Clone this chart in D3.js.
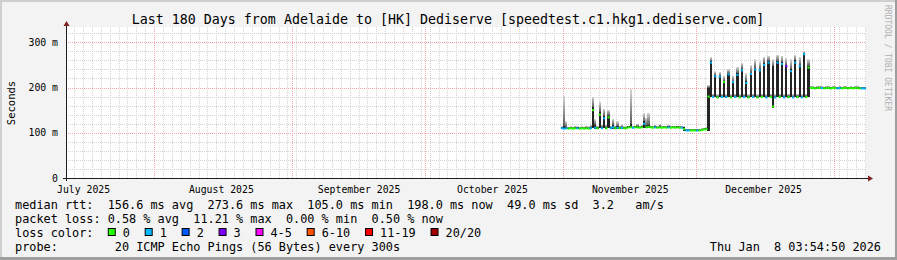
<!DOCTYPE html>
<html>
<head>
<meta charset="utf-8">
<script src="https://cdn.jsdelivr.net/npm/d3@7"></script>
<style>
  html, body { margin: 0; padding: 0; background: #f3f3f3; }
  svg { display: block; }
  text { font-family: "DejaVu Sans Mono", monospace; fill: #000; }
</style>
</head>
<body>
<svg id="chart" width="897" height="260"></svg>
<script>
// ---- data ----
var startTime = "2025-07-12T03:54:50Z";
var endTime   = "2026-01-08T03:54:50Z";
var sampleStart = "2025-10-31T12:00:00Z";   // first consolidated sample
var sampleHours = 12;

var monthStarts = ["2025-07-01", "2025-08-01", "2025-09-01", "2025-10-01", "2025-11-01", "2025-12-01", "2026-01-01"];
var monthLabels = ["July 2025", "August 2025", "September 2025", "October 2025", "November 2025", "December 2025"];

var yTicks = [0, 100, 200, 300];
var yTickLabels = ["0", "100 m", "200 m", "300 m"];

// median rtt (ms) per 12h sample
var medianMs = [
  110,109,110,109,110,109,110,110,109,110,
  109,110,109,110,150,111,110,140,110,132,
  110,134,110,112,110,111,110,111,110,110,
  112,112,111,112,112,111,112,120,112,113,
  112,111,112,111,112,111,112,111,112,111,
  112,111,112,111,111,108,105,105,105,105,
  105,105,105,106,107,108,180,255,179,225,
  178,224,179,212,179,229,178,212,179,228,
  178,238,179,210,178,230,179,240,178,238,
  179,250,178,255,179,158,178,255,179,252,
  178,247,179,236,178,255,179,247,178,273.6,
  179,244,199,199,198,199,199,199,198,199,
  199,198,199,199,198,199,198,199,199,198,
  199,198,199,199,198,198,198,198
];
// lost pings out of 20
var lossCount = [
  1,1,1,0,0,0,0,1,0,0,
  0,0,0,1,0,1,0,0,1,1,
  0,0,1,1,0,1,0,1,0,0,
  0,0,1,0,0,0,0,1,0,0,
  0,0,1,0,0,0,0,0,1,0,
  0,0,0,0,1,0,1,1,0,0,
  0,1,0,0,0,0,0,1,1,1,
  0,1,1,0,1,1,0,1,1,1,
  0,1,1,1,0,1,1,1,0,1,
  0,1,1,1,0,0,1,1,0,1,
  1,3,0,1,1,1,0,1,1,1,
  0,0,0,0,0,0,0,1,0,0,
  0,0,0,0,1,1,0,0,0,0,
  0,0,0,0,0,1,1,1
];
// smoke: dense part (lo..hi) and light tail up to top, ms
var smokeLo = [
  108,108,108,108,108,108,108,108,108,108,
  108,108,108,108,110,109,108,110,108,110,
  108,110,108,109,108,109,108,109,108,108,
  110,110,110,110,110,110,110,111,110,110,
  110,110,110,110,110,110,110,110,110,110,
  110,110,110,110,110,105,104,104,104,104,
  104,104,104,105,106,106,105,178,177,178,
  177,178,177,178,177,178,177,178,177,178,
  177,178,177,178,177,178,177,178,177,178,
  177,178,177,178,177,155,177,178,177,178,
  177,178,177,178,177,178,177,178,177,178,
  177,178,197,197,197,197,197,197,197,197,
  197,197,197,197,197,197,197,197,197,197,
  197,197,197,197,197,197,197,197
];
var smokeHi = [
  112,115,113,111,112,111,112,112,111,112,
  111,112,111,113,156,118,112,147,113,137,
  112,138,112,118,112,114,112,113,112,112,
  114,120,113,114,114,113,114,125,116,118,
  114,113,114,113,115,113,114,113,114,113,
  114,113,114,113,113,112,107,107,107,107,
  107,107,107,108,109,110,200,258,181,227,
  180,226,181,215,180,231,180,214,181,232,
  180,242,181,215,180,233,181,244,180,241,
  181,254,180,258,181,247,180,258,181,256,
  180,250,181,240,180,260,181,250,180,275,
  181,248,201,201,200,201,201,201,200,201,
  201,200,201,201,200,201,200,201,201,200,
  201,200,201,201,200,200,200,200
];
var smokeTop = [
  114,182,125,113,114,113,115,114,113,114,
  113,115,114,117,180,130,115,168,118,153,
  118,150,115,131,116,125,115,118,114,114,
  116,196,115,116,120,115,117,144,133,144,
  116,115,117,115,119,115,116,115,117,115,
  116,115,116,115,115,114,109,109,109,109,
  109,109,109,110,111,112,205,267,186,236,
  185,234,186,225,185,240,185,226,186,245,
  185,255,186,232,185,250,186,262,185,258,
  186,268,185,270,186,262,185,272,186,270,
  185,265,186,262,185,272,186,268,185,280,
  186,262,203,203,202,203,203,203,202,203,
  203,202,203,203,202,203,202,203,203,202,
  203,202,203,203,202,202,202,202
];

var lossLabels = ["0", "1", "2", "3", "4-5", "6-10", "11-19", "20/20"];
var lossColors = ["#26ff00", "#00b8ff", "#0059ff", "#7e00ff", "#ff00ff", "#ff5500", "#ff0000", "#a10000"];

var legendRtt  = "median rtt:  156.6 ms avg  273.6 ms max  105.0 ms min  198.0 ms now  49.0 ms sd  3.2   am/s";
var legendLoss = "packet loss: 0.58 % avg  11.21 % max  0.00 % min  0.50 % now";
var legendProbe = "probe:        20 ICMP Echo Pings (56 Bytes) every 300s";
var stamp = "Thu Jan  8 03:54:50 2026";
var title = "Last 180 Days from Adelaide to [HK] Dediserve [speedtest.c1.hkg1.dediserve.com]";

// ---- layout ----
var W = 897, H = 260;
var plot = {left: 66, right: 866, top: 27, bottom: 178};

var svg = d3.select("#chart");

svg.append("rect").attr("width", W).attr("height", H).attr("fill", "#f3f3f3");
// rrdtool style shade frame
svg.append("rect").attr("x", 0).attr("y", 0).attr("width", W).attr("height", 2).attr("fill", "#cfcfcf");
svg.append("rect").attr("x", 0).attr("y", 0).attr("width", 2).attr("height", H).attr("fill", "#cfcfcf");
svg.append("rect").attr("x", W - 2).attr("y", 0).attr("width", 2).attr("height", H).attr("fill", "#9e9e9e");
svg.append("rect").attr("x", 0).attr("y", H - 3).attr("width", W).attr("height", 3).attr("fill", "#9e9e9e");

var x = d3.scaleUtc()
    .domain([new Date(startTime), new Date(endTime)])
    .range([plot.left, plot.right]);
var y = d3.scaleLinear()
    .domain([0, 333.8])
    .range([plot.bottom, plot.top]);

svg.append("rect")
    .attr("x", plot.left).attr("y", plot.top)
    .attr("width", plot.right - plot.left).attr("height", plot.bottom - plot.top)
    .attr("fill", "#fff");

var defs = svg.append("defs");
defs.append("clipPath").attr("id", "clip").append("rect")
    .attr("x", plot.left).attr("y", plot.top)
    .attr("width", plot.right - plot.left).attr("height", plot.bottom - plot.top);
var grad = defs.append("linearGradient").attr("id", "tail")
    .attr("x1", 0).attr("y1", 1).attr("x2", 0).attr("y2", 0);
grad.append("stop").attr("offset", "0%").attr("stop-color", "#5a5a5a");
grad.append("stop").attr("offset", "100%").attr("stop-color", "#d6d6d6");

// ---- grid ----
var minorX = d3.utcDay.range(new Date("2025-07-14T00:00:00Z"), new Date(endTime), 2);
var majorX = monthStarts.map(function(d){ return new Date(d + "T00:00:00Z"); })
    .filter(function(d){ return d > x.domain()[0] && d < x.domain()[1]; });
var minorY = d3.range(20, 334, 20).filter(function(v){ return v % 100 !== 0; });

var grid = svg.append("g").attr("shape-rendering", "crispEdges");

grid.append("g")
    .attr("transform", "translate(0," + plot.bottom + ")")
    .call(d3.axisBottom(x).tickValues(minorX).tickSize(-(plot.bottom - plot.top)).tickFormat(""))
    .call(function(g){
      g.select(".domain").remove();
      g.selectAll("line").attr("stroke", "#d4d4d4").attr("stroke-dasharray", "1,1");
    });
grid.append("g")
    .attr("transform", "translate(" + plot.left + ",0)")
    .call(d3.axisLeft(y).tickValues(minorY).tickSize(-(plot.right - plot.left)).tickFormat(""))
    .call(function(g){
      g.select(".domain").remove();
      g.selectAll("line").attr("stroke", "#d4d4d4").attr("stroke-dasharray", "1,1");
    });
grid.append("g")
    .attr("transform", "translate(0," + plot.bottom + ")")
    .call(d3.axisBottom(x).tickValues(majorX).tickSize(-(plot.bottom - plot.top)).tickFormat(""))
    .call(function(g){
      g.select(".domain").remove();
      g.selectAll("line").attr("stroke", "#f2a8a8").attr("stroke-dasharray", "1,1");
    });
grid.append("g")
    .attr("transform", "translate(" + plot.left + ",0)")
    .call(d3.axisLeft(y).tickValues(yTicks.slice(1)).tickSize(-(plot.right - plot.left)).tickFormat(""))
    .call(function(g){
      g.select(".domain").remove();
      g.selectAll("line").attr("stroke", "#f2a8a8").attr("stroke-dasharray", "1,1");
    });

// ---- samples ----
function lossClass(n) {
  if (n <= 3) return n;
  if (n <= 5) return 4;
  if (n <= 10) return 5;
  if (n <= 19) return 6;
  return 7;
}

var t0 = new Date(sampleStart);
var samples = medianMs.map(function(m, i) {
  var a = d3.utcHour.offset(t0, i * sampleHours);
  var b = d3.utcHour.offset(t0, (i + 1) * sampleHours);
  if (b > x.domain()[1]) b = x.domain()[1];
  return {a: a, b: b, median: m, loss: lossCount[i], lo: smokeLo[i], hi: smokeHi[i], top: smokeTop[i]};
});

var data = svg.append("g").attr("clip-path", "url(#clip)");

data.append("g").attr("shape-rendering", "crispEdges")
  .selectAll("rect").data(samples).enter().append("rect")
    .attr("x", function(d){ return x(d.a); })
    .attr("width", function(d){ return x(d.b) - x(d.a); })
    .attr("y", function(d){ return y(d.top); })
    .attr("height", function(d){ return Math.max(0, y(d.hi) - y(d.top)); })
    .attr("fill", "url(#tail)");

data.append("g").attr("shape-rendering", "crispEdges")
  .selectAll("rect").data(samples).enter().append("rect")
    .attr("x", function(d){ return x(d.a); })
    .attr("width", function(d){ return x(d.b) - x(d.a); })
    .attr("y", function(d){ return y(d.hi); })
    .attr("height", function(d){ return Math.max(0, y(d.lo) - y(d.hi)); })
    .attr("fill", "#242424");

data.append("g")
  .selectAll("line").data(samples).enter().append("line")
    .attr("x1", function(d){ return x(d.a); })
    .attr("x2", function(d){ return x(d.b); })
    .attr("y1", function(d){ return y(d.median); })
    .attr("y2", function(d){ return y(d.median); })
    .attr("stroke", function(d){ return lossColors[lossClass(d.loss)]; })
    .attr("stroke-width", 2);

// ---- axes ----
var axisColor = "#202020", arrowColor = "#7f1f1f";
svg.append("line")
    .attr("x1", plot.left - 3).attr("x2", plot.right + 2)
    .attr("y1", plot.bottom + 0.5).attr("y2", plot.bottom + 0.5)
    .attr("stroke", axisColor);
svg.append("path")
    .attr("d", "M" + (plot.right + 2) + "," + (plot.bottom - 2.5) + "L" + (plot.right + 7) + "," + (plot.bottom + 0.5) + "L" + (plot.right + 2) + "," + (plot.bottom + 3.5) + "Z")
    .attr("fill", arrowColor);
svg.append("line")
    .attr("x1", plot.left + 0.5).attr("x2", plot.left + 0.5)
    .attr("y1", plot.bottom + 3).attr("y2", plot.top - 1)
    .attr("stroke", axisColor);
svg.append("path")
    .attr("d", "M" + (plot.left - 2.5) + "," + (plot.top - 1) + "L" + (plot.left + 0.5) + "," + (plot.top - 6) + "L" + (plot.left + 3.5) + "," + (plot.top - 1) + "Z")
    .attr("fill", arrowColor);

var midMonths = monthStarts.slice(0, monthLabels.length).map(function(d){
  return d3.utcDay.offset(new Date(d + "T00:00:00Z"), 15);
});
svg.append("g")
    .attr("transform", "translate(0," + plot.bottom + ")")
    .call(d3.axisBottom(x).tickValues(midMonths).tickSize(0).tickPadding(8)
      .tickFormat(function(d, i){ return monthLabels[i]; }))
    .call(function(g){
      g.select(".domain").remove();
      g.selectAll("text").attr("font-family", "DejaVu Sans Mono").attr("font-size", "9.8px").attr("fill", "#000");
    });

svg.append("g")
    .attr("transform", "translate(" + plot.left + ",0)")
    .call(d3.axisLeft(y).tickValues(yTicks).tickSize(0).tickPadding(8)
      .tickFormat(function(d, i){ return yTickLabels[i]; }))
    .call(function(g){
      g.select(".domain").remove();
      g.selectAll("text").attr("font-family", "DejaVu Sans Mono").attr("font-size", "9.8px").attr("fill", "#000");
    });

svg.append("text")
    .attr("transform", "translate(15,103) rotate(-90)")
    .attr("text-anchor", "middle")
    .attr("font-size", "10.5px")
    .text("Seconds");

// ---- title & watermark ----
svg.append("text")
    .attr("x", 448).attr("y", 24)
    .attr("text-anchor", "middle")
    .attr("font-size", "13.3px")
    .text(title);

svg.append("text")
    .attr("transform", "translate(885,5) rotate(90)")
    .attr("font-size", "8px")
    .style("fill", "#b0b0b0")
    .text("RRDTOOL / TOBI OETIKER");

// ---- legend ----
var legendX = 15, charW = 7.135;
function legendLine(str, yPos) {
  svg.append("text")
      .attr("x", legendX).attr("y", yPos)
      .attr("font-size", "11.85px")
      .style("white-space", "pre")
      .text(str);
}
legendLine(legendRtt, 208.5);
legendLine(legendLoss, 222.5);
legendLine("loss color:", 236.5);
legendLine(legendProbe, 250.5);

var cur = legendX + 13 * charW;
lossLabels.forEach(function(lbl, i) {
  svg.append("rect")
      .attr("x", cur + 0.5).attr("y", 228.5)
      .attr("width", 7).attr("height", 7)
      .attr("fill", lossColors[i])
      .attr("stroke", "#000").attr("stroke-width", 1);
  svg.append("text")
      .attr("x", cur + 15).attr("y", 236.5)
      .attr("font-size", "11.85px")
      .text(lbl);
  cur = cur + 15 + lbl.length * charW + 14.8;
});

svg.append("text")
    .attr("x", 881).attr("y", 250.5)
    .attr("text-anchor", "end")
    .attr("font-size", "11.85px")
    .style("white-space", "pre")
    .text(stamp);
</script>
</body>
</html>
